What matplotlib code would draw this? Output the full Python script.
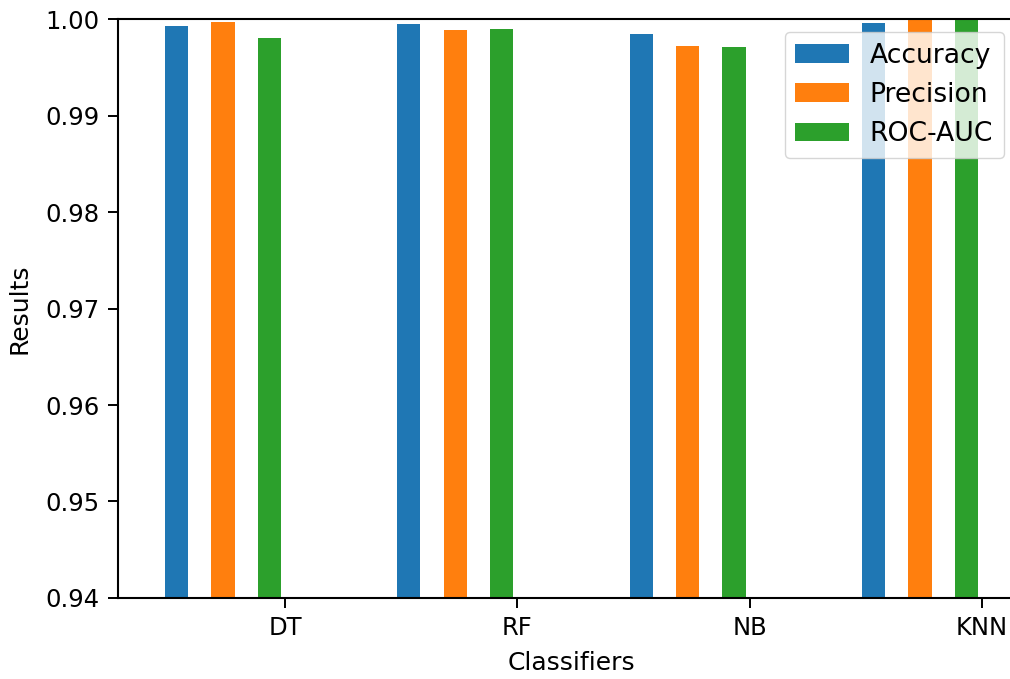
import numpy as np
import matplotlib
matplotlib.use('Agg')
import matplotlib.pyplot as plt

classifiers = ['DT', 'RF', 'NB', 'KNN']
accuracy = [0.99931, 0.99945, 0.99848, 0.99955]
precision = [0.99969, 0.99889, 0.99723, 1.0]
roc_auc = [0.99803, 0.99900, 0.99707, 1.0]

plt.rcParams['font.size'] = 18
plt.rcParams['axes.linewidth'] = 1.5

fig = plt.figure(figsize=(10.1, 6.79), dpi=100)
# axes runs past the right edge, like the cropped original
ax = fig.add_axes([0.1168, 0.1193, 0.8975, 0.8527])

x = np.arange(len(classifiers))
width = 0.1
ax.bar(x, accuracy, width, label='Accuracy')
ax.bar(x + 0.2, precision, width, label='Precision')
ax.bar(x + 0.4, roc_auc, width, label='ROC-AUC')

ax.set_ylim(0.94, 1.0)
ax.set_xlim(-0.252, 3.65)
ax.set_xticks(x + 0.467)
ax.set_xticklabels(classifiers)
ax.tick_params(length=7, width=1.4, labelsize=17.5, pad=6)
ax.set_xlabel('Classifiers', labelpad=8)
ax.set_ylabel('Results', labelpad=10)

ax.legend(loc='upper right', bbox_to_anchor=(1004 / 1010, 1 - 32 / 679),
          bbox_transform=fig.transFigure, borderaxespad=0, fontsize=19.2)

fig.savefig('out.png', dpi=100)
